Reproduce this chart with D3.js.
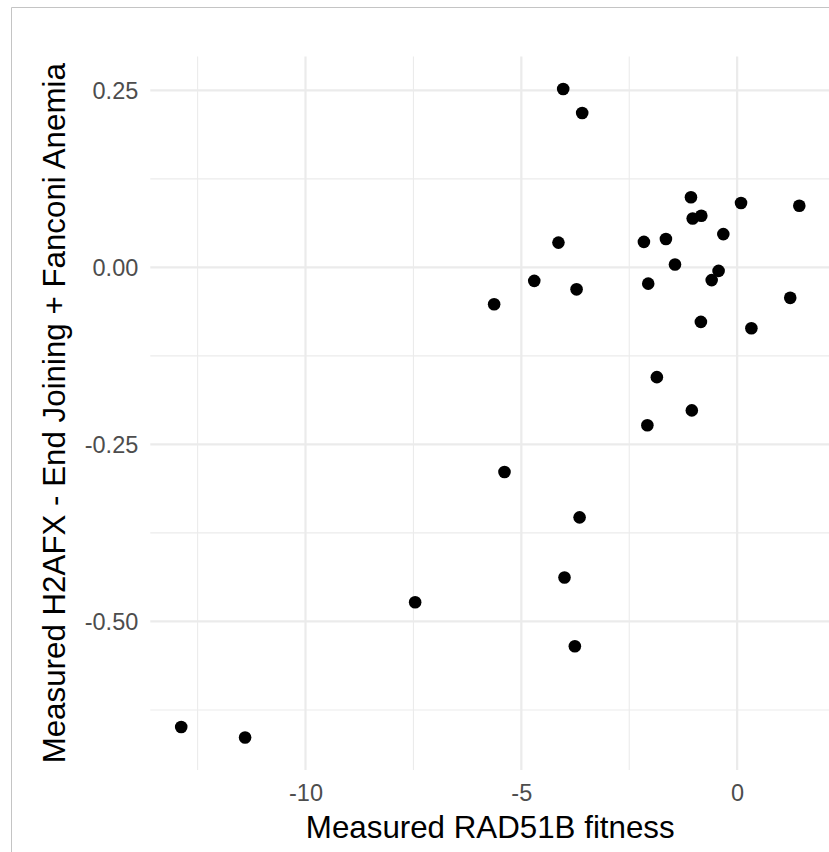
<!DOCTYPE html>
<html>
<head>
<meta charset="utf-8">
<script src="https://cdn.jsdelivr.net/npm/d3@7"></script>
<style>
  body { margin: 0; background: #fff; }
  svg text { font-family: "Liberation Sans", Arial, Helvetica, sans-serif; }
</style>
</head>
<body>
<div id="chart"></div>
<script>
const WIDTH  = 829
const HEIGHT = 852

// RAD51B fitness (x) vs H2AFX - EJ + FA (y)
const fitness = [
    -4.03, -3.59, -1.07, 0.09, 1.44, -1.03, -0.83, -0.32, -4.14, -2.16,
    -1.65, -1.44, -0.43, -0.59, -4.70, -3.72, -2.06, -5.63, 1.23, -0.84,
    0.33, -1.86, -1.05, -2.08, -5.39, -3.65, -4.00, -3.76, -7.46, -12.88,
    -11.40
]
const h2afx = [
    0.252, 0.218, 0.099, 0.091, 0.087, 0.069, 0.073, 0.047, 0.035, 0.036,
    0.040, 0.004, -0.005, -0.018, -0.019, -0.031, -0.023, -0.052, -0.043, -0.077,
    -0.086, -0.155, -0.202, -0.223, -0.289, -0.353, -0.438, -0.535, -0.473, -0.649,
    -0.664
]

const xMajor = [-10, -5, 0]
const xMinor = [-12.5, -7.5, -2.5]
const yMajor = [0.25, 0, -0.25, -0.5]
const yMinor = [0.125, -0.125, -0.375, -0.625]

const xTitle = 'Measured RAD51B fitness'
const yTitle = 'Measured H2AFX - End Joining + Fanconi Anemia'

const points = fitness.map((f, i) => ({ x: f, y: h2afx[i] }))

const panel = { left: 150.3, right: 830.2, top: 56.5, bottom: 770 }

// ggplot-like 5% expansion
const expand = ext => {
    const pad = (ext[1] - ext[0]) * 0.05
    return [ext[0] - pad, ext[1] + pad]
}

const x = d3.scaleLinear()
    .domain(expand(d3.extent(fitness)))
    .range([panel.left, panel.right])

const y = d3.scaleLinear()
    .domain(expand(d3.extent(h2afx)))
    .range([panel.bottom, panel.top])

const svg = d3.select('#chart').append('svg')
    .attr('width', WIDTH)
    .attr('height', HEIGHT)

svg.append('rect')
    .attr('width', WIDTH)
    .attr('height', HEIGHT)
    .attr('fill', '#fff')

// frame of the original screenshot
svg.append('path')
    .attr('d', `M11.5,${HEIGHT} V7.5 H${WIDTH}`)
    .attr('fill', 'none')
    .attr('stroke', '#c4c4c4')
    .attr('stroke-width', 1)

const grid = svg.append('g')

grid.selectAll('.xminor').data(xMinor).join('line')
    .attr('x1', d => x(d)).attr('x2', d => x(d))
    .attr('y1', panel.top).attr('y2', panel.bottom)
    .attr('stroke', '#ebebeb').attr('stroke-width', 1.1)

grid.selectAll('.yminor').data(yMinor).join('line')
    .attr('y1', d => y(d)).attr('y2', d => y(d))
    .attr('x1', panel.left).attr('x2', panel.right)
    .attr('stroke', '#ebebeb').attr('stroke-width', 1.1)

grid.selectAll('.xmajor').data(xMajor).join('line')
    .attr('x1', d => x(d)).attr('x2', d => x(d))
    .attr('y1', panel.top).attr('y2', panel.bottom)
    .attr('stroke', '#ebebeb').attr('stroke-width', 2.2)

grid.selectAll('.ymajor').data(yMajor).join('line')
    .attr('y1', d => y(d)).attr('y2', d => y(d))
    .attr('x1', panel.left).attr('x2', panel.right)
    .attr('stroke', '#ebebeb').attr('stroke-width', 2.2)

// axes without lines or ticks (theme_minimal)
const xAxis = svg.append('g')
    .attr('transform', `translate(0,${panel.bottom})`)
    .call(d3.axisBottom(x).tickValues(xMajor).tickSize(0).tickPadding(14.8))
xAxis.select('.domain').remove()
xAxis.selectAll('text')
    .attr('fill', '#4d4d4d')
    .style('font-size', '23.5px')
    .text(d => d3.format('d')(d).replace('−', '-'))

const yAxis = svg.append('g')
    .attr('transform', `translate(${panel.left},0)`)
    .call(d3.axisLeft(y).tickValues(yMajor).tickSize(0).tickPadding(12))
yAxis.select('.domain').remove()
yAxis.selectAll('text')
    .attr('fill', '#4d4d4d')
    .attr('dy', '0.36em')
    .style('font-size', '23.5px')
    .text(d => d3.format('.2f')(d).replace('−', '-'))

svg.append('text')
    .attr('x', (panel.left + panel.right) / 2)
    .attr('y', 838)
    .attr('text-anchor', 'middle')
    .style('font-size', '31.3px')
    .attr('fill', '#000')
    .text(xTitle)

svg.append('text')
    .attr('transform', `translate(65,${(panel.top + panel.bottom) / 2}) rotate(-90)`)
    .attr('text-anchor', 'middle')
    .style('font-size', '31.3px')
    .attr('fill', '#000')
    .text(yTitle)

svg.append('g').selectAll('circle').data(points).join('circle')
    .attr('cx', d => x(d.x))
    .attr('cy', d => y(d.y))
    .attr('r', 6.3)
    .attr('fill', '#000')
</script>
</body>
</html>
